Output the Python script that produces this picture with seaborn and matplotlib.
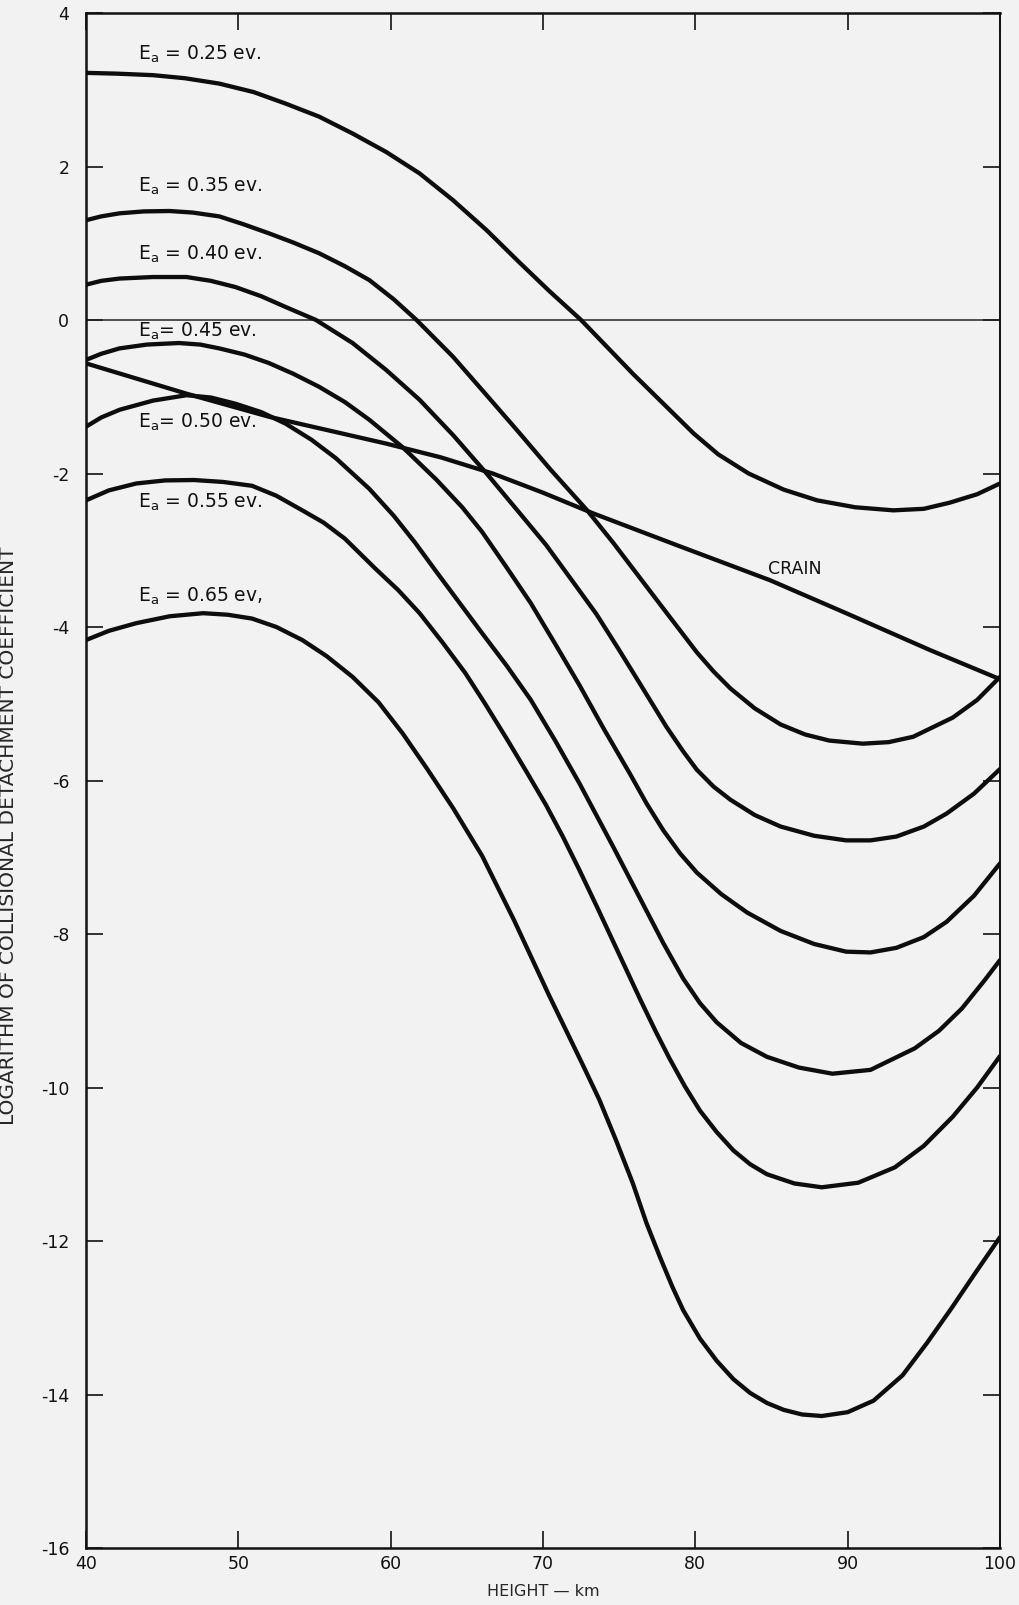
import numpy as np
import pandas as pd
import matplotlib
matplotlib.use("Agg")
import matplotlib.pyplot as plt
import seaborn as sns

# ---- data (height in km, log of coefficient) ----
x_025 = [40, 42, 44.4, 46.5, 48.75, 51, 53.1, 55.3, 57.5, 59.7, 61.9, 64.1, 66.3, 68.4, 70.4, 72.5, 75.9,
         79.9, 81.5, 83.5, 85.8, 88, 90.5, 93.0, 95, 96.7, 98.5, 100]
y_025 = [3.22, 3.21, 3.19, 3.15, 3.08, 2.97, 2.82, 2.65, 2.43, 2.19, 1.91, 1.56, 1.17, 0.76, 0.38, 0.0, -0.70,
         -1.48, -1.75, -2.0, -2.21, -2.35, -2.44, -2.48, -2.46, -2.38, -2.27, -2.13]

x_035 = [40, 41, 42.2, 43.8, 45.5, 47, 48.75, 50.3, 52.0, 53.6, 55.3, 57, 58.6, 60.2, 61.7, 64.1, 66.3, 68.4,
         70.5, 72.9, 74.6, 77.9, 80.1, 81.2, 82.3, 83.9, 85.6, 87.2, 88.8, 91.0, 92.7, 94.3, 96.9, 98.5, 100]
y_035 = [1.30, 1.35, 1.39, 1.415, 1.42, 1.40, 1.35, 1.25, 1.13, 1.01, 0.87, 0.70, 0.52, 0.27, 0.0, -0.48, -0.98, -1.46,
         -1.95, -2.48, -2.90, -3.76, -4.33, -4.58, -4.80, -5.06, -5.27, -5.40, -5.48, -5.52, -5.50, -5.43, -5.18, -4.95, -4.65]

x_040 = [40, 41, 42.2, 44.4, 46.6, 48.2, 49.8, 51.5, 53.1, 55.1, 57.5, 59.7, 61.9, 64.1, 66.3, 68.4, 70.2, 72,
         73.5, 75, 76.4, 78.1, 79.2, 80.1, 81.2, 82.3, 83.9, 85.6, 87.8, 89.9, 91.5, 93.2, 95, 96.5, 98.3, 100]
y_040 = [0.46, 0.51, 0.54, 0.56, 0.56, 0.51, 0.43, 0.31, 0.17, 0.0, -0.30, -0.65, -1.04, -1.50, -2.0, -2.50, -2.93, -3.42,
         -3.83, -4.30, -4.75, -5.30, -5.62, -5.86, -6.08, -6.25, -6.45, -6.60, -6.72, -6.78, -6.78, -6.73, -6.60, -6.43, -6.17, -5.85]

x_045 = [40, 41, 42.2, 44, 46.1, 47.5, 48.75, 50.4, 52.0, 53.6, 55.3, 57, 58.6, 60.8, 63.0, 64.7, 66.0, 67.6, 69.2,
         70.8, 72.4, 74, 75.7, 76.8, 77.9, 79, 80.1, 81.7, 83.4, 85.6, 87.8, 89.9, 91.5, 93.2, 95, 96.5, 98.3, 100]
y_045 = [-0.52, -0.44, -0.37, -0.32, -0.30, -0.32, -0.37, -0.45, -0.56, -0.70, -0.87, -1.07, -1.30, -1.66, -2.08, -2.44,
         -2.76, -3.22, -3.69, -4.22, -4.76, -5.33, -5.91, -6.30, -6.65, -6.95, -7.20, -7.48, -7.72, -7.96, -8.13, -8.23,
         -8.24, -8.18, -8.04, -7.84, -7.50, -7.08]

x_050 = [40, 41, 42.2, 44.4, 46.6, 48.2, 49.8, 51.5, 53.1, 54.8, 56.4, 58.6, 60.2, 61.6, 63.0, 64.5, 66.0, 67.6, 69.2,
         70.8, 72.4, 74.6, 76.8, 77.9, 79.2, 80.3, 81.4, 83, 84.7, 86.8, 89.0, 91.5, 94.4, 96, 97.5, 99, 100]
y_050 = [-1.39, -1.27, -1.17, -1.05, -0.98, -1.01, -1.09, -1.20, -1.35, -1.56, -1.80, -2.20, -2.55, -2.90, -3.28, -3.68,
         -4.08, -4.50, -4.95, -5.48, -6.04, -6.86, -7.70, -8.12, -8.58, -8.90, -9.15, -9.42, -9.60, -9.74, -9.82, -9.77,
         -9.49, -9.26, -8.97, -8.60, -8.34]

x_055 = [40, 41.5, 43.3, 45.2, 47.1, 49, 50.9, 52.5, 54.2, 55.6, 57.0, 59.0, 60.5, 61.9, 63.4, 64.9, 66.2, 67.6, 68.9,
         70.2, 71.3, 72.4, 73.6, 74.8, 76.4, 77.4, 78.3, 79.3, 80.3, 81.4, 82.5, 83.6, 84.7, 86.5, 88.3, 90.7, 93.1, 95,
         96.9, 98.5, 100]
y_055 = [-2.35, -2.22, -2.13, -2.09, -2.085, -2.11, -2.16, -2.29, -2.48, -2.64, -2.85, -3.24, -3.52, -3.82, -4.20, -4.60,
         -5.0, -5.45, -5.88, -6.32, -6.73, -7.17, -7.67, -8.18, -8.86, -9.27, -9.62, -9.98, -10.30, -10.58, -10.82,
         -11.00, -11.13, -11.25, -11.30, -11.24, -11.04, -10.76, -10.38, -10.00, -9.59]

x_065 = [40, 41.5, 43.3, 45.5, 47.7, 49.3, 50.9, 52.5, 54.2, 55.8, 57.5, 59.2, 60.8, 62.4, 64.1, 66.0, 68.1, 70.4,
         71.55, 72.6, 73.7, 74.8, 75.9, 76.8, 77.7, 78.5, 79.2, 80.3, 81.4, 82.5, 83.6, 84.7, 85.8, 87, 88.3, 90, 91.7,
         93.6, 95.2, 96.8, 98.4, 100]
y_065 = [-4.17, -4.05, -3.95, -3.86, -3.82, -3.84, -3.89, -4.00, -4.17, -4.38, -4.65, -4.98, -5.39, -5.85, -6.36, -6.98,
         -7.82, -8.80, -9.27, -9.70, -10.16, -10.69, -11.25, -11.77, -12.22, -12.60, -12.90, -13.27, -13.56, -13.80,
         -13.98, -14.11, -14.20, -14.26, -14.28, -14.23, -14.08, -13.75, -13.33, -12.88, -12.41, -11.95]

x_crain = [40, 46.6, 52.0, 59.7, 63.3, 66.7, 70.0, 73.3, 79.0, 84.9, 89.9, 95.4, 100]
y_crain = [-0.565, -0.96, -1.26, -1.61, -1.79, -2.0, -2.25, -2.52, -2.95, -3.39, -3.82, -4.30, -4.68]

series_names = ["0.25", "0.35", "0.40", "0.45", "0.50", "0.55", "0.65", "CRAIN"]
label_texts = [r"E$_{\mathregular{a}}$ = 0.25 ev.", r"E$_{\mathregular{a}}$ = 0.35 ev.",
               r"E$_{\mathregular{a}}$ = 0.40 ev.", r"E$_{\mathregular{a}}$= 0.45 ev.",
               r"E$_{\mathregular{a}}$= 0.50 ev.", r"E$_{\mathregular{a}}$ = 0.55 ev.",
               r"E$_{\mathregular{a}}$ = 0.65 ev,"]
label_y = [3.39, 1.67, 0.79, -0.22, -1.40, -2.45, -3.67]
label_x = 43.4
crain_label = "CRAIN"
x_ticks = [40, 50, 60, 70, 80, 90, 100]
y_ticks = [4, 2, 0, -2, -4, -6, -8, -10, -12, -14, -16]
x_title = "HEIGHT — km"
y_title = "LOGARITHM OF COLLISIONAL DETACHMENT COEFFICIENT"

# ---- build long-form table ----
xs = [x_025, x_035, x_040, x_045, x_050, x_055, x_065, x_crain]
ys = [y_025, y_035, y_040, y_045, y_050, y_055, y_065, y_crain]
frames = []
for name, xx, yy in zip(series_names, xs, ys):
    frames.append(pd.DataFrame({"height": xx, "value": yy, "series": name}))
df = pd.concat(frames, ignore_index=True)

# ---- styling ----
sns.set_theme(style="ticks")
bg = "#f2f2f2"
plt.rcParams.update({
    "font.family": ["DejaVu Sans"],
    "mathtext.fontset": "dejavusans",
    "axes.facecolor": bg,
    "figure.facecolor": bg,
    "axes.edgecolor": "#111111",
    "text.color": "#111111",
    "xtick.color": "#111111",
    "ytick.color": "#111111",
    "lines.solid_joinstyle": "round",
    "lines.solid_capstyle": "round",
})

fig = plt.figure(figsize=(10.2, 16.05), dpi=100)
ax = fig.add_axes([0.0843, 0.0355, 0.8961, 0.9564])

ax.axhline(0, color="#222222", lw=1.1, zorder=1)

sns.lineplot(data=df, x="height", y="value", units="series", estimator=None,
             sort=False, color="#0d0d0d", lw=3.1, ax=ax, legend=False, zorder=3)

for txt, yv in zip(label_texts, label_y):
    ax.text(label_x, yv, txt, fontsize=13.5, ha="left", va="baseline", color="#111111")
ax.text(84.8, -3.31, crain_label, fontsize=12.5, ha="left", va="baseline", color="#111111")

ax.set_xlim(40, 100)
ax.set_ylim(-16, 4)
ax.set_xticks(x_ticks)
ax.set_yticks(y_ticks)
ax.set_xticklabels([str(v) for v in x_ticks], fontsize=12.5)
ax.set_yticklabels([str(v) for v in y_ticks], fontsize=12.5)
ax.tick_params(axis="both", direction="in", length=12, width=1.2,
               top=True, right=True, labeltop=False, labelright=False)
ax.tick_params(axis="y", pad=12)
ax.tick_params(axis="x", pad=5)

for side in ["left", "bottom", "top"]:
    ax.spines[side].set_linewidth(1.8)
ax.spines["right"].set_linewidth(1.4)

ax.set_xlabel(x_title, fontsize=11.5, labelpad=8)
ax.set_ylabel(y_title, fontsize=14.5)
ax.yaxis.set_label_coords(-0.074, 0.464)

fig.savefig("out.png", dpi=100, facecolor=bg)
